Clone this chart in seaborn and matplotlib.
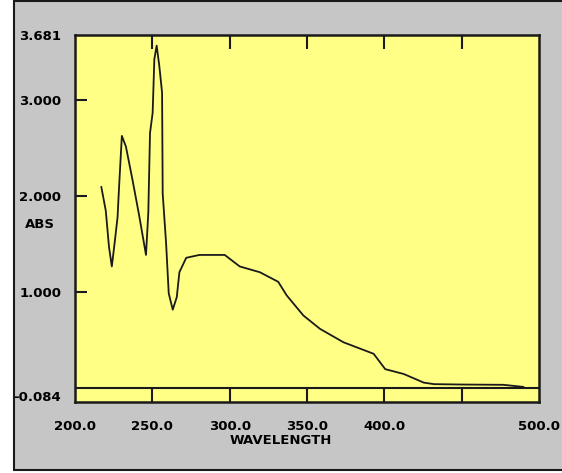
import matplotlib
matplotlib.use("Agg")
import matplotlib.pyplot as plt
from matplotlib.patches import Rectangle
import seaborn as sns
import pandas as pd

# ---- data ----
wavelength = [217.0, 219.9, 222.0, 223.8, 225.3, 227.5, 228.6, 230.3, 232.9, 237.2,
              241.6, 245.9, 247.4, 248.5, 250.2, 251.3, 252.8, 254.5, 256.3, 256.7,
              258.9, 260.6, 263.2, 265.8, 267.5, 271.9, 280.5, 296.8, 306.5, 319.5,
              331.4, 336.8, 347.6, 358.4, 373.6, 393.1, 400.6, 412.5, 425.5, 432.0,
              450.0, 477.0, 490.0]
absorbance = [2.10, 1.85, 1.47, 1.27, 1.47, 1.78, 2.13, 2.63, 2.52, 2.17,
              1.79, 1.39, 1.83, 2.66, 2.87, 3.43, 3.57, 3.36, 3.08, 2.03,
              1.51, 0.99, 0.82, 0.95, 1.21, 1.36, 1.39, 1.39, 1.27, 1.21,
              1.11, 0.97, 0.76, 0.62, 0.48, 0.36, 0.20, 0.15, 0.06, 0.044,
              0.040, 0.037, 0.015]

x_label_vals = [200, 250, 300, 350, 400, 500]
x_label_text = ["200.0", "250.0", "300.0", "350.0", "400.0", "500.0"]
x_mark_vals = [250, 300, 350, 400, 450]
y_label_vals = [-0.084, 1.0, 2.0, 3.0, 3.681]
y_label_text = ["-0.084", "1.000", "2.000", "3.000", "3.681"]
y_mark_vals = [1.0, 2.0, 3.0]

df = pd.DataFrame({"WAVELENGTH": wavelength, "ABS": absorbance})

W, H = 562, 473
DPI = 100
GRAY = "#c6c6c6"
YELLOW = "#ffff86"
INK = "#1a1a1a"

sns.set_style("white")
plt.rcParams["font.family"] = ["DejaVu Sans"]

fig = plt.figure(figsize=(W / DPI, H / DPI), dpi=DPI, facecolor="white")

# gray framed panel (behind the axes)
fig.patches.append(Rectangle((14 / W, 3 / H), 1 - 14 / W + 0.01, 1 - 3 / H - 1 / H,
                             transform=fig.transFigure, facecolor=GRAY,
                             edgecolor=INK, linewidth=1.5, zorder=-10))

L, R, T, B = 75, 539, 35, 402
ax = fig.add_axes([L / W, 1 - B / H, (R - L) / W, (B - T) / H])
ax.set_zorder(5)
ax.set_facecolor(YELLOW)

sns.lineplot(data=df, x="WAVELENGTH", y="ABS", ax=ax, sort=False, estimator=None,
             color=INK, linewidth=1.3)

ax.set_xlim(200, 500)
ax.set_ylim(-0.142, 3.681)
ax.axhline(0, color=INK, linewidth=1.5)

for s in ax.spines.values():
    s.set_color(INK)
    s.set_linewidth(1.8)
    s.set_visible(True)

# labels (no marks)
ax.set_xticks(x_label_vals)
ax.set_xticklabels(x_label_text)
ax.set_yticks(y_label_vals)
ax.set_yticklabels(y_label_text)
ax.tick_params(axis="both", which="major", length=0, labelsize=9.5, labelcolor="black")
ax.tick_params(axis="x", which="major", pad=13)
ax.tick_params(axis="y", which="major", pad=10)
for t in ax.get_xticklabels() + ax.get_yticklabels():
    t.set_fontweight("bold")

# marks (no labels)
ax.xaxis.remove_overlapping_locs = False
ax.yaxis.remove_overlapping_locs = False
ax.set_xticks(x_mark_vals, minor=True)
ax.set_yticks(y_mark_vals, minor=True)
ax.tick_params(axis="x", which="minor", direction="in", bottom=True, top=True,
               length=14 * 72 / DPI, width=1.5, color=INK, labelbottom=False)
ax.tick_params(axis="y", which="minor", direction="in", left=True,
               length=12 * 72 / DPI, width=1.5, color=INK, labelleft=False)

ax.set_xlabel("")
ax.set_ylabel("")

fig.text(230 / W, 1 - 440 / H, "WAVELENGTH", ha="left", va="center",
         fontsize=9.5, fontweight="bold", color="black")
fig.text(25 / W, 1 - 224 / H, "ABS", ha="left", va="center",
         fontsize=9.5, fontweight="bold", color="black")

fig.savefig("out.png", dpi=DPI, facecolor=fig.get_facecolor())
